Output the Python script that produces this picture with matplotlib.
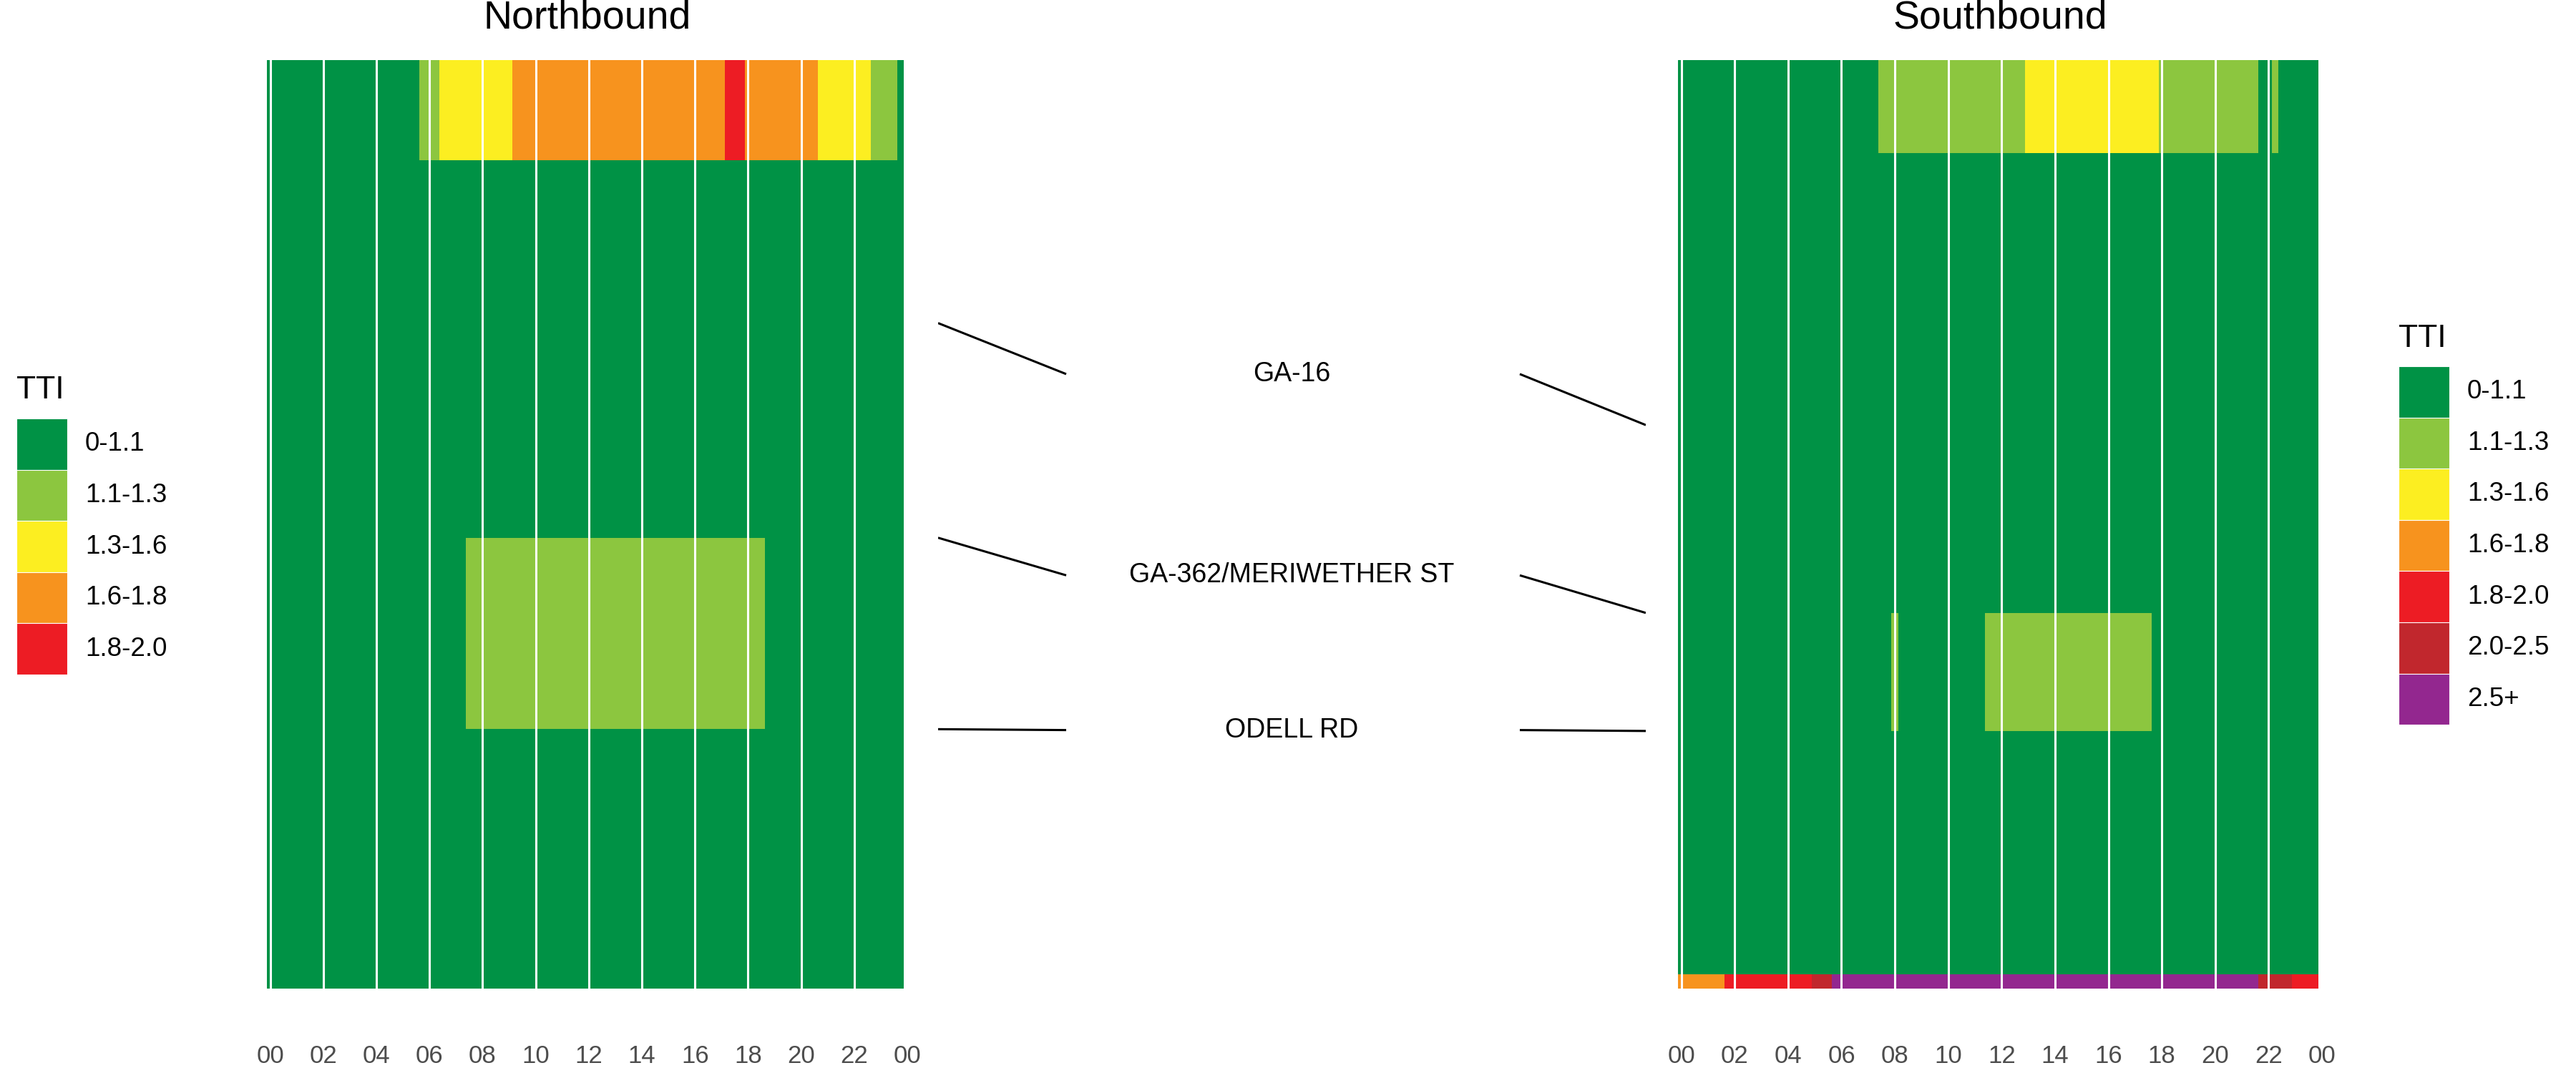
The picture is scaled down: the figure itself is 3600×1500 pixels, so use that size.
import numpy as np
import matplotlib
matplotlib.use('Agg')
import matplotlib.pyplot as plt
from matplotlib.colors import ListedColormap, BoundaryNorm
from matplotlib.patches import Rectangle

plt.rcParams['font.family'] = ['Liberation Sans', 'DejaVu Sans']

tti_labels = ['0-1.1', '1.1-1.3', '1.3-1.6', '1.6-1.8', '1.8-2.0', '2.0-2.5', '2.5+']
tti_colors = ['#009245', '#8CC63F', '#FCEE21', '#F7931E', '#ED1C24', '#C1272D', '#93278F']

hour_ticks = list(range(0, 25, 2))
hour_labels = [f'{h % 24:02d}' for h in hour_ticks]
bin_hours = 0.25  # 15 min bins

# segment lengths (mi), top to bottom
nb_seg_len = [0.56, 0.91, 1.20, 1.07, 1.45]
sb_seg_len = [0.52, 1.52, 1.05, 0.66, 1.36, 0.08]

# TTI class for each 15 min bin, written as runs of (class, n bins)
nb_runs = [
    [(0, 23), (1, 3), (2, 11), (3, 32), (4, 3), (3, 11), (2, 8), (1, 4), (0, 1)],
    [(0, 96)],
    [(0, 96)],
    [(0, 30), (1, 45), (0, 21)],
    [(0, 96)],
]
sb_runs = [
    [(0, 30), (1, 22), (2, 20), (1, 15), (0, 2), (1, 1), (0, 6)],
    [(0, 96)],
    [(0, 96)],
    [(0, 32), (1, 1), (0, 13), (1, 25), (0, 25)],
    [(0, 96)],
    [(3, 7), (4, 13), (5, 3), (6, 64), (5, 5), (4, 4)],
]

intersections = ['GA-16', 'GA-362/MERIWETHER ST', 'ODELL RD']
nb_cross = [2, 3, 4]  # index of segment edge
sb_cross = [2, 3, 4]

cmap = ListedColormap(tti_colors)
norm = BoundaryNorm(np.arange(len(tti_colors) + 1) - 0.5, cmap.N)

W, H = 3600, 1500
fig = plt.figure(figsize=(W / 100, H / 100), dpi=100, facecolor='white')

bottom = (H - 1382) / H
height = 1298 / H


def draw_panel(ax, seg_len, runs, title):
    grid = np.array([np.repeat([c for c, n in r], [n for c, n in r]) for r in runs])
    y_edges = np.concatenate([[0], np.cumsum(seg_len)])
    x_edges = np.arange(grid.shape[1] + 1) * bin_hours - bin_hours / 2
    ax.pcolormesh(x_edges, y_edges, grid, cmap=cmap, norm=norm,
                  shading='flat', antialiased=False, edgecolors='none')
    ax.set_xlim(-bin_hours / 2, 24)
    ax.set_ylim(y_edges[-1], 0)
    ax.set_xticks(hour_ticks)
    ax.set_xticklabels(hour_labels)
    ax.set_yticks([])
    ax.tick_params(axis='x', length=0, pad=56, labelsize=25, labelcolor='#4D4D4D')
    ax.grid(axis='x', color='white', lw=2.2)
    ax.set_axisbelow(False)
    for s in ax.spines.values():
        s.set_visible(False)
    ax.annotate(title, xy=(0.5, 1), xycoords='axes fraction', xytext=(0, 31.7),
                textcoords='offset points', ha='center', va='baseline', fontsize=40)
    return y_edges


ax_nb = fig.add_axes([373 / W, bottom, 895 / W, height])
ax_sb = fig.add_axes([2345 / W, bottom, 900 / W, height])
nb_edges = draw_panel(ax_nb, nb_seg_len, nb_runs, 'Northbound')
sb_edges = draw_panel(ax_sb, sb_seg_len, sb_runs, 'Southbound')

# middle labels with connector lines
mid = fig.add_axes([1311 / W, bottom, 989 / W, height])
mid.set_xlim(0, 1)
mid.set_ylim(1, 0)
mid.axis('off')
for name, i, j in zip(intersections, nb_cross, sb_cross):
    y_nb = nb_edges[i] / nb_edges[-1]
    y_sb = sb_edges[j] / sb_edges[-1]
    y_mid = (y_nb + y_sb) / 2
    mid.plot([0, 0.181], [y_nb, y_mid], color='black', lw=2.2, solid_capstyle='butt')
    mid.plot([0.822, 1], [y_mid, y_sb], color='black', lw=2.2, solid_capstyle='butt')
    mid.text(0.5, y_mid, name, ha='center', va='center', fontsize=27)

# legends, in pixel coords
ov = fig.add_axes([0, 0, 1, 1])
ov.set_xlim(0, W)
ov.set_ylim(H, 0)
ov.axis('off')
ov.patch.set_visible(False)


def draw_legend(x, title_y, top, n):
    key = 71.6
    ov.text(x, title_y, 'TTI', fontsize=32, ha='left', va='baseline')
    for k in range(n):
        ov.add_patch(Rectangle((x, top + k * key), 71, key, facecolor=tti_colors[k],
                               edgecolor='white', lw=0.8))
        ov.text(x + 96, top + k * key + key / 2, tti_labels[k], fontsize=26.5,
                ha='left', va='center')


draw_legend(23, 557, 585, 5)
draw_legend(3352, 485, 512, 7)

fig.savefig('out.png', dpi=100, facecolor='white')
plt.close()
